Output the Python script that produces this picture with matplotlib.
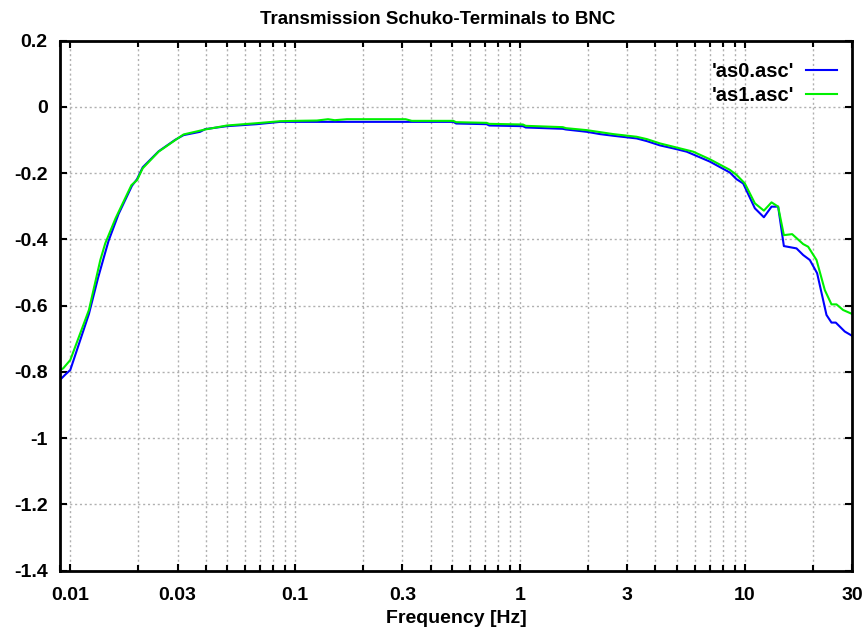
import matplotlib
matplotlib.use("Agg")
import matplotlib.pyplot as plt
import numpy as np
from matplotlib.ticker import FixedLocator, NullFormatter

plt.rcParams['font.family'] = ['Liberation Sans', 'DejaVu Sans']
plt.rcParams['font.weight'] = 'bold'
plt.rcParams['axes.unicode_minus'] = False

# 'as0.asc'
freq0 = [0.009, 0.0095, 0.0100, 0.0121, 0.0133, 0.0141, 0.0148, 0.0164, 0.0188, 0.0198,
         0.0210, 0.0247, 0.0293, 0.0319, 0.0378, 0.0398, 0.0497, 0.0675, 0.0858, 0.1,
         0.2, 0.3, 0.4, 0.505, 0.52, 0.71, 0.73, 1.03, 1.06, 1.55,
         1.6, 1.98, 2.27, 2.6, 3.3, 3.66, 4.19, 4.8, 5.51, 6.99,
         8.58, 9.18, 9.83, 11.08, 12.15, 13.14, 14.06, 14.91, 16.97, 18.17,
         19.45, 20.96, 23.07, 24.28, 25.37, 27.82, 30.0]
trans0 = [-0.824, -0.808, -0.794, -0.625, -0.515, -0.454, -0.404, -0.323, -0.238, -0.218,
          -0.182, -0.134, -0.099, -0.085, -0.075, -0.067, -0.058, -0.052, -0.045, -0.045,
          -0.045, -0.045, -0.045, -0.045, -0.050, -0.052, -0.056, -0.058, -0.062, -0.066,
          -0.068, -0.075, -0.082, -0.087, -0.095, -0.103, -0.116, -0.125, -0.135, -0.165,
          -0.198, -0.218, -0.231, -0.306, -0.333, -0.301, -0.301, -0.420, -0.427, -0.447,
          -0.462, -0.502, -0.628, -0.651, -0.651, -0.678, -0.691]

# 'as1.asc'
freq1 = [0.009, 0.0093, 0.0100, 0.0121, 0.0136, 0.0143, 0.0159, 0.0187, 0.0198, 0.0210,
         0.0247, 0.0293, 0.0319, 0.0398, 0.0497, 0.0675, 0.0858, 0.1, 0.125, 0.14,
         0.15, 0.17, 0.31, 0.33, 0.505, 0.52, 0.71, 0.73, 1.03, 1.06,
         1.55, 1.6, 1.98, 2.27, 2.6, 3.3, 3.66, 4.19, 5.89, 6.99,
         8.58, 9.18, 10.0, 11.08, 12.15, 13.14, 14.06, 14.91, 16.23, 18.17,
         19.12, 20.83, 22.68, 24.28, 25.55, 27.35, 30.0]
trans1 = [-0.795, -0.789, -0.764, -0.613, -0.462, -0.412, -0.336, -0.236, -0.221, -0.185,
          -0.135, -0.100, -0.083, -0.068, -0.056, -0.049, -0.043, -0.042, -0.041, -0.037,
          -0.040, -0.037, -0.037, -0.042, -0.042, -0.046, -0.048, -0.051, -0.053, -0.057,
          -0.061, -0.064, -0.070, -0.076, -0.082, -0.090, -0.097, -0.110, -0.135, -0.158,
          -0.190, -0.205, -0.231, -0.291, -0.313, -0.288, -0.301, -0.387, -0.384, -0.414,
          -0.422, -0.462, -0.553, -0.596, -0.596, -0.613, -0.625]

xtick_vals = [0.01, 0.03, 0.1, 0.3, 1, 3, 10, 30]
xtick_labels = ['0.01', '0.03', '0.1', '0.3', '1', '3', '10', '30']
ytick_vals = [-1.4, -1.2, -1.0, -0.8, -0.6, -0.4, -0.2, 0.0, 0.2]
ytick_labels = ['-1.4', '-1.2', '-1', '-0.8', '-0.6', '-0.4', '-0.2', '0', '0.2']

fig = plt.figure(figsize=(8.66, 6.36), dpi=100)
ax = fig.add_axes([0.0693, 0.1027, 0.9147, 0.8333])

ax.plot(freq0, trans0, color='#0000ff', lw=1.5, label="'as0.asc'")
ax.plot(freq1, trans1, color='#00f000', lw=1.5, label="'as1.asc'")

ax.set_xscale('log')
ax.set_xlim(0.009, 30)
ax.set_ylim(-1.4, 0.2)

ax.xaxis.set_major_locator(FixedLocator(xtick_vals))
ax.set_xticklabels(xtick_labels)
minor = [m * 10.0 ** e for e in range(-3, 2) for m in range(1, 10)]
ax.xaxis.set_minor_locator(FixedLocator(minor))
ax.xaxis.set_minor_formatter(NullFormatter())
ax.set_yticks(ytick_vals)
ax.set_yticklabels(ytick_labels)

ax.tick_params(which='both', direction='in', top=True, right=True, width=1.5, labelsize=14)
ax.tick_params(which='major', length=5)
ax.tick_params(which='minor', length=4)
ax.tick_params(axis='x', which='major', pad=12)
ax.tick_params(axis='y', which='major', pad=9)
for s in ax.spines.values():
    s.set_linewidth(2)

ax.grid(True, which='both', axis='x', color='#b0b0b0', linestyle=(0, (1.5, 2)), lw=1)
ax.grid(True, which='major', axis='y', color='#b0b0b0', linestyle=(0, (1.5, 2)), lw=1)

ax.set_title('Transmission Schuko-Terminals to BNC', fontsize=13.5, fontweight='bold',
             pad=12, x=0.477)
ax.set_xlabel('Frequency [Hz]', fontsize=14, fontweight='bold', labelpad=4)

ax.legend(loc='upper right', bbox_to_anchor=(0.981, 0.960), frameon=False, markerfirst=False,
          fontsize=14.5, handlelength=1.55, handletextpad=0.6, labelspacing=0.25,
          borderaxespad=0, borderpad=0)

fig.savefig('out.png', dpi=100)
